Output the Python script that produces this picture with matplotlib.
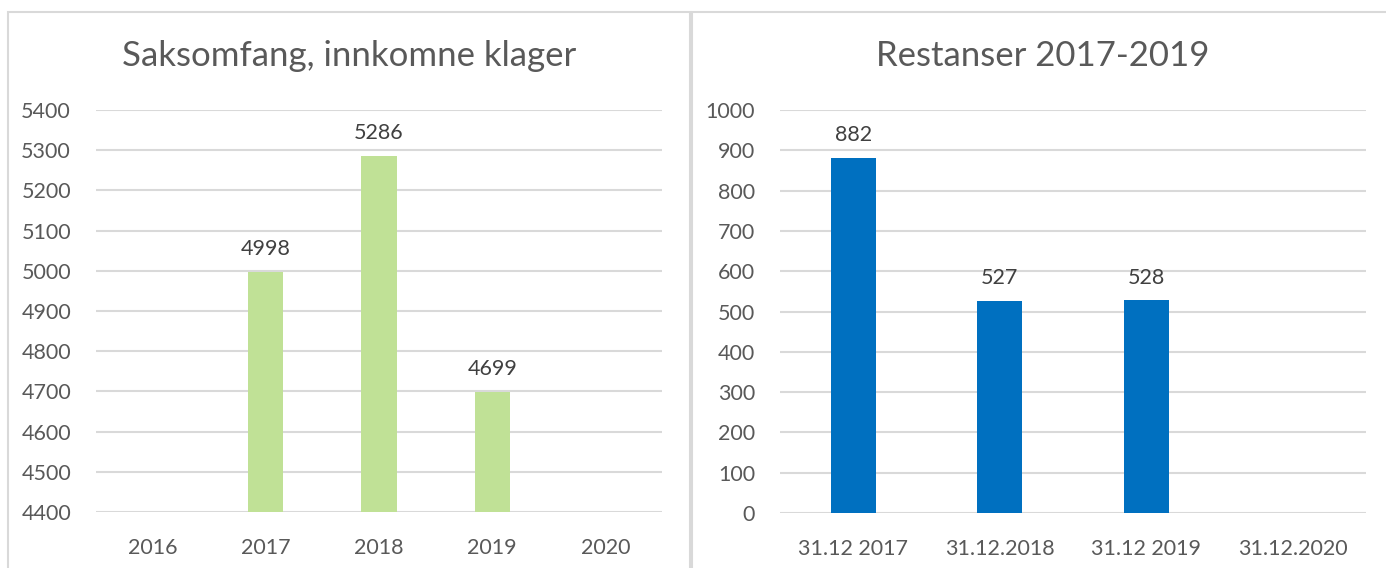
import matplotlib.pyplot as plt
from matplotlib.patches import Rectangle

plt.rcParams['font.family'] = ['Lato', 'DejaVu Sans']

# left chart
years = ['2016', '2017', '2018', '2019', '2020']
klager = [None, 4998, 5286, 4699, None]
# right chart
datoer = ['31.12 2017', '31.12.2018', '31.12 2019', '31.12.2020']
restanser = [882, 527, 528, None]

W, H = 1386, 568
fig = plt.figure(figsize=(W / 100, H / 100), dpi=100)

grey_txt = '#595959'
grid_c = '#d9d9d9'
fs = 15.5

# panel frames
for x0, x1 in [(8, 690), (692, 1390)]:
    fig.patches.append(Rectangle((x0 / W, -0.1), (x1 - x0) / W, (H - 12) / H + 0.1,
                                 transform=fig.transFigure, fill=False,
                                 edgecolor=grid_c, linewidth=1.5))


def style(ax, ymin, ymax, step):
    ax.set_ylim(ymin, ymax)
    ax.set_yticks(range(ymin, ymax + 1, step))
    ax.yaxis.grid(True, color=grid_c, linewidth=1.5)
    ax.set_axisbelow(True)
    for s in ax.spines.values():
        s.set_visible(False)
    ax.tick_params(length=0, labelsize=fs, colors=grey_txt)
    ax.tick_params(axis='y', pad=18)
    ax.tick_params(axis='x', pad=19)


ax1 = fig.add_axes([96 / W, 1 - 512 / H, 566 / W, 402 / H])
xs = list(range(len(years)))
vals = [v for v in klager if v is not None]
pos = [i for i, v in enumerate(klager) if v is not None]
ax1.bar(pos, [v - 4400 for v in vals], bottom=4400, width=0.31, color='#c0e196')
ax1.set_xlim(-0.5, len(years) - 0.5)
ax1.set_xticks(xs)
ax1.set_xticklabels(years)
style(ax1, 4400, 5400, 100)
for p, v in zip(pos, vals):
    ax1.annotate(str(v), (p, v), xytext=(0, 9), textcoords='offset points',
                 ha='center', va='bottom', fontsize=fs, color='#404040')
fig.text(349 / W, 1 - 56 / H, 'Saksomfang, innkomne klager', ha='center', va='center',
         fontsize=25, color=grey_txt)

ax2 = fig.add_axes([780 / W, 1 - 513 / H, 586 / W, 403 / H])
xs2 = list(range(len(datoer)))
vals2 = [v for v in restanser if v is not None]
pos2 = [i for i, v in enumerate(restanser) if v is not None]
ax2.bar(pos2, vals2, width=0.31, color='#0070c0')
ax2.set_xlim(-0.5, len(datoer) - 0.5)
ax2.set_xticks(xs2)
ax2.set_xticklabels(datoer)
style(ax2, 0, 1000, 100)
for p, v in zip(pos2, vals2):
    ax2.annotate(str(v), (p, v), xytext=(0, 9), textcoords='offset points',
                 ha='center', va='bottom', fontsize=fs, color='#404040')
fig.text(1043 / W, 1 - 56 / H, 'Restanser 2017-2019', ha='center', va='center',
         fontsize=25, color=grey_txt)

fig.savefig('out.png', dpi=100)
